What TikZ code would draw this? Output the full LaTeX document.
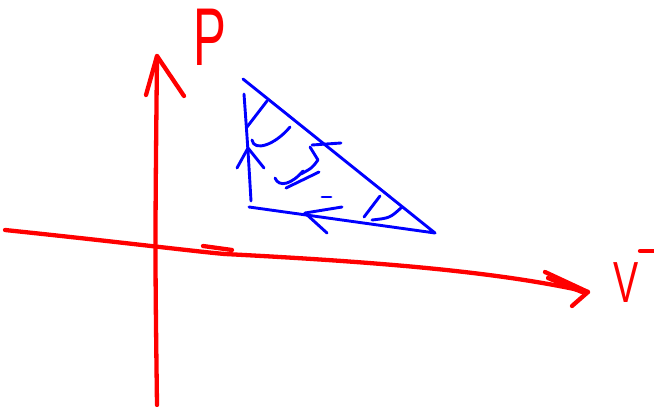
\documentclass[tikz,border=0pt]{standalone}
\usepackage{fontspec}
\setmainfont{Liberation Sans}
\usepackage{tikz}
\usetikzlibrary{calc}
\tikzset{
axis/.style={
draw=red,
line width=4.3pt,
line cap=round,
line join=round
},
cycle/.style={
draw=blue,
line width=2.9pt,
line cap=round,
line join=round
},
label/.style={
text=red,
inner sep=0pt,
font=\fontsize{82}{82}\selectfont
}
}

\begin{document}
\begin{tikzpicture}[x=1pt,y=-1pt]
\useasboundingbox (0,0) rectangle (654,407);
% axes
\coordinate (o) at (157,405);
\coordinate (ptop) at (157,56);
\coordinate (h0) at (5,230);
\coordinate (vtip) at (588,292);
\draw[axis](o) .. controls (155,250) .. (ptop);
\draw[axis](146,95)--(ptop)--(184,96);
\draw[axis](h0) .. controls (120,242) and (200,252) .. (225,254);
\draw[axis](203,246)--(232,250);
\draw[axis](225,254) .. controls (380,262) and (500,272) .. (vtip);
\draw[axis](545,272)--(vtip)--(572,306);
\draw[axis](548,278)--(582,292);
\node[label,anchor=base west](p)at(193,65){\scalebox{0.6}[1]{P}};
\node[label,anchor=base west,font=\fontsize{58}{58}\selectfont](v)at(613,302){\scalebox{0.65}[1]{V}};
\draw[axis](640,251)--(654,251);

% cycle
\coordinate (a) at (243,79);
\coordinate (a2) at (244,94);
\coordinate (b) at (249,207);
\coordinate (c) at (435,233);
\draw[cycle](a)--(c)--(b);
\draw[cycle](a2) .. controls (248,150) .. (251,201);
% arrows
\coordinate (bl) at (305,213);
\draw[cycle](342,207)--(bl)--(327,233);
\coordinate (lu) at (248,148);
\draw[cycle](237,168)--(lu)--(264,168);
% hatching
\draw[cycle](247,127)--(267,101);
\draw[cycle](252,140) .. controls (254,152) and (275,145) .. (290,127);
\draw[cycle](312,145)--(341,143);
\draw[cycle](310,147)--(318,160) .. controls (312,168) .. (301,174);
\draw[cycle](275,178) .. controls (279,188) and (292,184) .. (303,171);
\draw[cycle](286,188)--(319,172);
\draw[cycle](322,197)--(331,197);
\draw[cycle](364,217)--(380,196);
\draw[cycle](372,220) .. controls (390,218) .. (402,207);
\end{tikzpicture}
\end{document}
